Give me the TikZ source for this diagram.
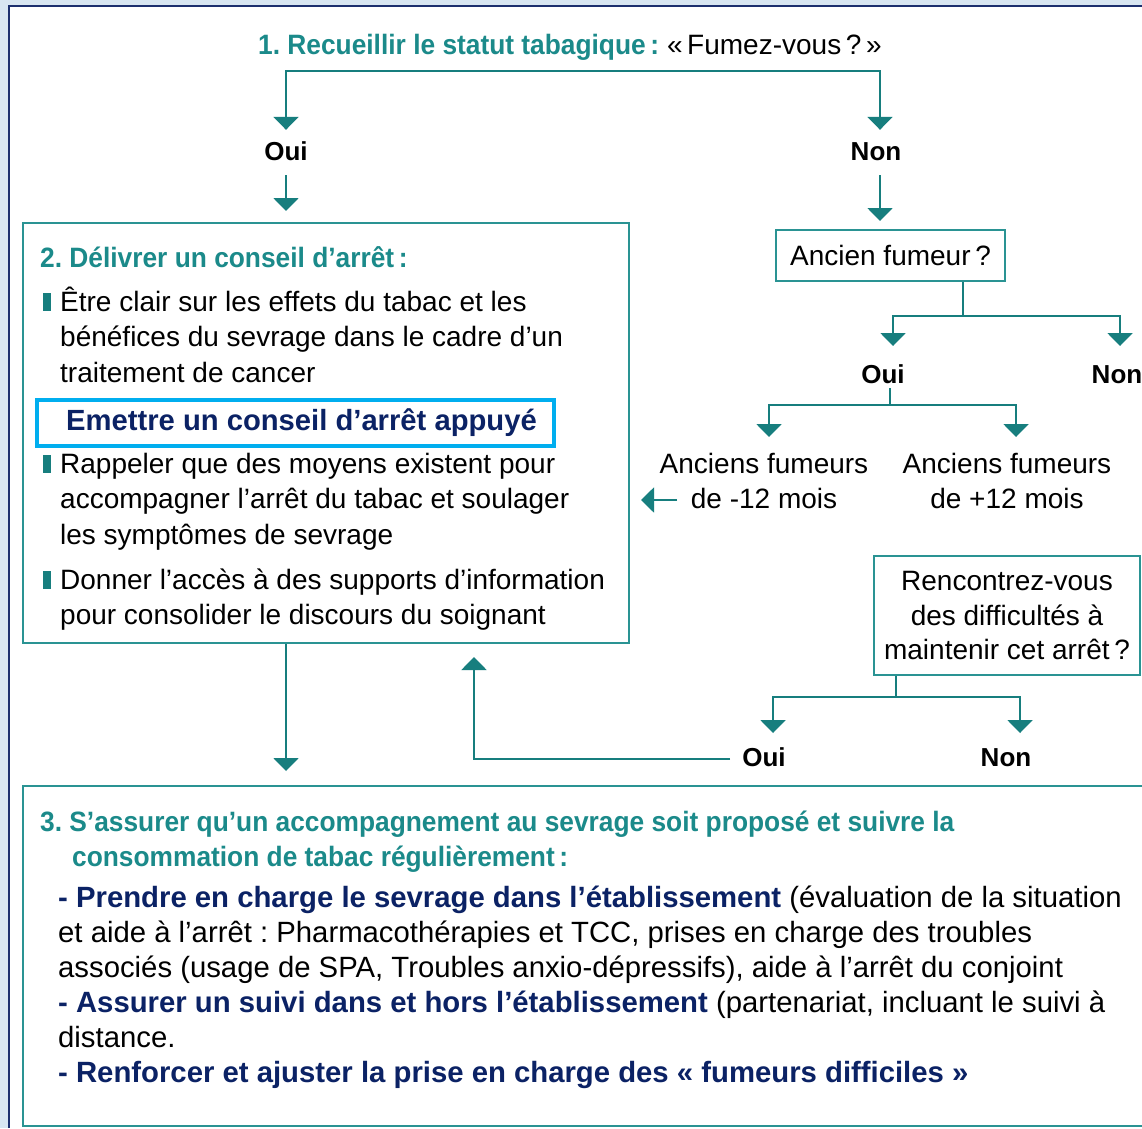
\documentclass[tikz,border=0pt]{standalone}
\usepackage{fontspec}
\setmainfont{Liberation Sans}
\newfontfamily\headfont[FakeStretch=0.94]{Liberation Sans}
\usetikzlibrary{arrows.meta,calc}
\frenchspacing
\definecolor{linec}{HTML}{177E7E}
\definecolor{boxc}{HTML}{2A9393}
\definecolor{headc}{HTML}{1B8A8A}
\definecolor{navyc}{HTML}{0B2265}
\definecolor{cyanc}{HTML}{00AEEF}
\definecolor{frame}{HTML}{1C2F6E}
\definecolor{bgblue}{HTML}{D8E6F2}
\newcommand{\bul}{\llap{\textcolor{linec}{\rule{8pt}{18pt}}\hspace{9pt}}}
\tikzset{
  conn/.style={draw=linec, line width=2pt},
  arr/.style={conn, -{Triangle[width=25pt,length=13pt]}},
  arrs/.style={conn, {Triangle[width=25pt,length=13pt]}-{Triangle[width=25pt,length=13pt]}},
  box/.style={draw=boxc, line width=2pt, inner sep=0pt},
  lab/.style={font=\fontsize{26}{30}\selectfont\bfseries, text height=20pt, text depth=5pt, inner xsep=2pt, inner ysep=10pt},
  body/.style={font=\fontsize{28}{35.5}\selectfont, inner sep=0pt, align=left},
  bodyc/.style={font=\fontsize{28}{35.5}\selectfont, inner sep=0pt, align=center},
  head/.style={font=\headfont\bfseries\fontsize{28}{35}\selectfont, text=headc, inner sep=0pt},
  body3/.style={font=\fontsize{29.3}{35}\selectfont, inner sep=0pt, align=left}
}
\begin{document}
\begin{tikzpicture}[x=1pt,y=-1pt]
\useasboundingbox (0,0) rectangle (1142,1128);
\clip (0,0) rectangle (1142,1128);
\fill[bgblue] (0,0) rectangle (1142,1128);
\fill[white] (9,6) rectangle (1142,1128);
\draw[frame, line width=2pt] (9,1128) -- (9,6) -- (1142,6);

% title
\node[anchor=base west, inner sep=0pt, font=\fontsize{28}{35}\selectfont] (title) at (258,54)
  {\textcolor{headc}{\headfont\bfseries 1. Recueillir le statut tabagique\,:} «\,Fumez-vous\,?\,»};

% labels
\node[lab, anchor=base] (oui1) at (286,160) {Oui};
\node[lab, anchor=base] (non1) at (876,160) {Non};
\node[lab, anchor=base, inner ysep=0pt] (oui2) at (883,383) {Oui};
\node[lab, anchor=base] (non2) at (1117,383) {Non};
\node[lab, anchor=base, inner xsep=12pt] (oui3) at (764,766) {Oui};
\node[lab, anchor=base] (non3) at (1006,766) {Non};

% box 2
\node[box, minimum width=606pt, minimum height=420pt] (box2) at (326,433) {};
\node[head, anchor=base west] (h2) at (40,267) {2. Délivrer un conseil d’arrêt\,:};
\node[body, anchor=north west] (b1) at (60,286.15)
  {\strut\bul Être clair sur les effets du tabac et les\\bénéfices du sevrage dans le cadre d’un\\traitement de cancer};
\node[draw=cyanc, line width=4.5pt, minimum width=517pt, minimum height=46pt, inner sep=0pt,
  font=\fontsize{29.2}{30}\selectfont\bfseries, text=navyc] (emet) at (295.5,423)
  {\hspace*{12pt}Emettre un conseil d’arrêt appuyé};
\node[body, anchor=north west] (b2) at (60,448.15)
  {\strut\bul Rappeler que des moyens existent pour\\accompagner l’arrêt du tabac et soulager\\les symptômes de sevrage};
\node[body, anchor=north west] (b3) at (60,564.15)
  {\strut\bul Donner l’accès à des supports d’information\\pour consolider le discours du soignant};

% right side
\node[box, minimum width=229pt, minimum height=51pt, font=\fontsize{28}{35}\selectfont] (anc) at (890.5,255.5) {Ancien fumeur\,?};
\node[bodyc, anchor=north] (fm12) at (764,448.15) {\strut Anciens fumeurs\\de -12 mois};
\node[bodyc, anchor=north] (fm12p) at (1007,448.15) {\strut Anciens fumeurs\\de +12 mois};
\node[box, minimum width=266pt, minimum height=119pt, align=center, font=\fontsize{28}{34.5}\selectfont] (ren) at (1007,615.5)
  {Rencontrez-vous\\des difficultés à\\maintenir cet arrêt\,?};

% box 3
\node[box, minimum width=1130pt, minimum height=340pt] (box3) at (588,956) {};
\node[head, anchor=base west] (h3a) at (40,831) {3. S’assurer qu’un accompagnement au sevrage soit proposé et suivre la};
\node[head, anchor=base west] (h3b) at (72,866) {consommation de tabac régulièrement\,:};
\node[body3, anchor=north west] (b3t) at (58,882.5)
  {\strut\textcolor{navyc}{\bfseries - Prendre en charge le sevrage dans l’établissement} (évaluation de la situation\\
   et aide à l’arrêt : Pharmacothérapies et TCC, prises en charge des troubles\\
   associés (usage de SPA, Troubles anxio-dépressifs), aide à l’arrêt du conjoint\\
   \textcolor{navyc}{\bfseries - Assurer un suivi dans et hors l’établissement} (partenariat, incluant le suivi à\\
   distance.\\
   \textcolor{navyc}{\bfseries - Renforcer et ajuster la prise en charge des « fumeurs difficiles »}};

% connectors
\coordinate (tL) at (286,71);
\coordinate (tR) at (880,71);
\draw[arrs] (oui1.north) -- (tL) -- (tR) -- (tR |- non1.north);
\draw[arr, shorten >=11pt] (oui1.south) -- (oui1.south |- box2.north);
\draw[arr, shorten >=8pt] (tR |- non1.south) -- (tR |- anc.north);

\coordinate (j2) at (963,316);
\coordinate (a2L) at (893,346);
\coordinate (a2R) at (1120,346);
\draw[conn] (j2 |- anc.south) -- (j2);
\draw[arrs] (a2L) |- (j2) -| (a2R);

\coordinate (j3) at (890,405);
\coordinate (a3L) at (769,437);
\coordinate (a3R) at (1016,437);
\draw[conn] (oui2.south -| j3) -- (j3);
\draw[arrs] (a3L) |- (j3) -| (a3R);

\coordinate (lb) at (677,500);
\draw[arr, shorten >=11pt] (lb) -- (lb -| box2.east);

\coordinate (j4) at (896,697);
\coordinate (a4L) at (773,733);
\coordinate (a4R) at (1020,733);
\draw[conn] (j4 |- ren.south) -- (j4);
\draw[arrs] (a4L) |- (j4) -| (a4R);

\coordinate (lx) at (474,700);
\draw[arr, shorten >=13pt] (oui3.west) -| (lx |- box2.south);

\draw[arr, shorten >=14pt] (tL |- box2.south) -- (tL |- box3.north);
\end{tikzpicture}
\end{document}
